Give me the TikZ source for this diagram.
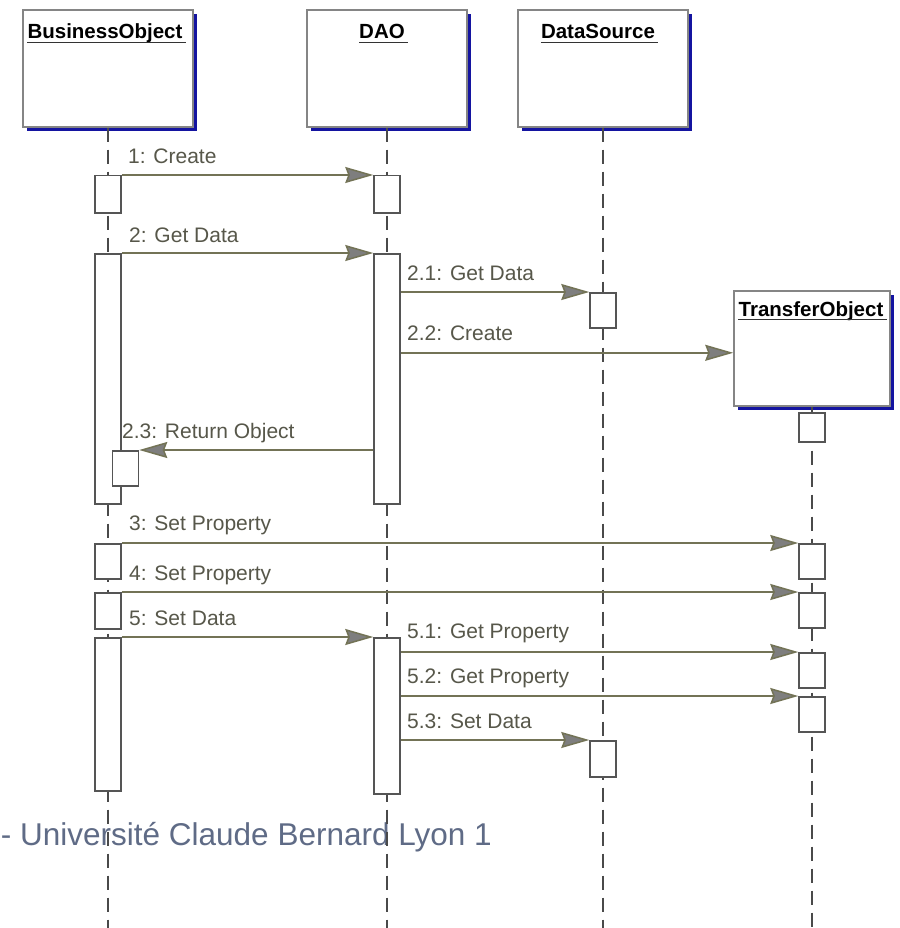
\documentclass[tikz,border=0pt]{standalone}
\usepackage{fontspec}
\setmainfont{Liberation Sans}
\usetikzlibrary{arrows.meta,shadows}

\definecolor{shadowblue}{HTML}{1414A0}
\definecolor{boxgray}{HTML}{858585}
\definecolor{actgray}{HTML}{555555}
\definecolor{lifegray}{HTML}{4A4A4A}
\definecolor{msgline}{HTML}{737356}
\definecolor{msgtext}{HTML}{57574A}
\definecolor{tipfill}{HTML}{7E7E7E}
\definecolor{markblue}{HTML}{5F6B86}

\tikzset{
  objbox/.style={draw=boxgray, line width=1.6pt, fill=white, inner sep=0pt,
    drop shadow={shadow xshift=4pt, shadow yshift=-4pt, fill=shadowblue, opacity=1}},
  objname/.style={font=\bfseries\fontsize{20.5}{24}\selectfont, inner sep=0pt, anchor=base},
  act/.style={draw=actgray, line width=1.5pt, fill=white, minimum width=26pt,
    inner sep=0pt, anchor=north},
  lifeline/.style={draw=lifegray, line width=1.8pt, dash pattern=on 14pt off 8pt},
  msg/.style={draw=msgline, line width=1.5pt,
    -{Stealth[length=28pt, width=16pt, inset=3pt, fill=tipfill]}},
  msglabel/.style={font=\fontsize{21}{25}\selectfont, text=msgtext, inner sep=0pt,
    anchor=base west},
  uline/.style={draw=black!80, line width=1.3pt},
}

\begin{document}
\begin{tikzpicture}[x=1pt, y=-1pt]
\useasboundingbox[fill=white] (0,0) rectangle (899,928);

% watermark
\node[font=\fontsize{31.5}{38}\selectfont, text=markblue, anchor=base east, inner sep=0pt]
  (mark) at (492,845) {- Université Claude Bernard Lyon 1};

% object boxes
\node[objbox, minimum width=170pt, minimum height=117pt, anchor=north] (bo)  at (108,9) {};
\node[objbox, minimum width=160pt, minimum height=117pt, anchor=north] (dao) at (387,9) {};
\node[objbox, minimum width=170pt, minimum height=117pt, anchor=north] (ds)  at (603,9) {};
\node[objbox, minimum width=156pt, minimum height=115pt, anchor=north] (to)  at (812,290) {};

% object names (underlined)
\node[objname] (boT)  at (105,39)  {BusinessObject};
\node[objname] (daoT) at (382,39)  {DAO};
\node[objname] (dsT)  at (598,39)  {DataSource};
\node[objname] (toT)  at (811,316) {TransferObject};
\foreach \t in {boT,daoT,dsT,toT}
  \draw[uline] ([yshift=-3.5pt]\t.base west) -- ([xshift=3pt,yshift=-3.5pt]\t.base east);

% lifelines
\coordinate (boEnd)  at (108,928);
\coordinate (daoEnd) at (387,928);
\coordinate (dsEnd)  at (603,928);
\coordinate (toEnd)  at (812,928);
\draw[lifeline] (bo.south)  -- (boEnd);
\draw[lifeline] (dao.south) -- (daoEnd);
\draw[lifeline] (ds.south)  -- (dsEnd);
\draw[lifeline] (to.south)  -- (toEnd);

% activation bars
\node[act, minimum height=37pt]  (boA1)  at (108,175) {};
\node[act, minimum height=250pt] (boA2)  at (108,253) {};
\node[act, minimum height=35pt]  (boA23) at (125.5,450) {};
\node[act, minimum height=35pt]  (boA3)  at (108,543) {};
\node[act, minimum height=36pt]  (boA4)  at (108,592) {};
\node[act, minimum height=153pt] (boA5)  at (108,637) {};

\node[act, minimum height=37pt]  (daoA1) at (387,175) {};
\node[act, minimum height=250pt] (daoA2) at (387,253) {};
\node[act, minimum height=156pt] (daoA5) at (387,637) {};

\node[act, minimum height=35pt]  (dsA21) at (603,292) {};
\node[act, minimum height=36pt]  (dsA53) at (603,740) {};

\node[act, minimum height=29pt]  (toA0)  at (812,412) {};
\node[act, minimum height=35pt]  (toA3)  at (812,543) {};
\node[act, minimum height=35pt]  (toA4)  at (812,592) {};
\node[act, minimum height=35pt]  (toA51) at (812,652) {};
\node[act, minimum height=35pt]  (toA52) at (812,696) {};

% creation message enters the TransferObject box slightly below its middle
\coordinate (toIn) at ([yshift=-4.5pt]to.west);

% messages
\draw[msg] (boA1.north east) -- (daoA1.north west);
\draw[msg] (boA2.north east) -- (daoA2.north west);
\draw[msg] (daoA2.east |- dsA21.north) -- (dsA21.north west);
\draw[msg] (daoA2.east |- toIn) -- (toIn);
\draw[msg] (daoA2.west |- boA23.north) -- (boA23.north east);
\draw[msg] (boA3.north east) -- (toA3.north west);
\draw[msg] (boA4.north east) -- (toA4.north west);
\draw[msg] (boA5.north east) -- (daoA5.north west);
\draw[msg] (daoA5.east |- toA51.north) -- (toA51.north west);
\draw[msg] (daoA5.east |- toA52.north) -- (toA52.north west);
\draw[msg] (daoA5.east |- dsA53.north) -- (dsA53.north west);

% message labels
\node[msglabel] (l1)  at (128,164) {1: Create};
\node[msglabel] (l2)  at (129,242) {2: Get Data};
\node[msglabel] (l21) at (407,280) {2.1: Get Data};
\node[msglabel] (l22) at (407,340) {2.2: Create};
\node[msglabel] (l23) at (122,438) {2.3: Return Object};
\node[msglabel] (l3)  at (129,530) {3: Set Property};
\node[msglabel] (l4)  at (129,580) {4: Set Property};
\node[msglabel] (l5)  at (129,625) {5: Set Data};
\node[msglabel] (l51) at (407,638) {5.1: Get Property};
\node[msglabel] (l52) at (407,683) {5.2: Get Property};
\node[msglabel] (l53) at (407,728) {5.3: Set Data};
\end{tikzpicture}
\end{document}
